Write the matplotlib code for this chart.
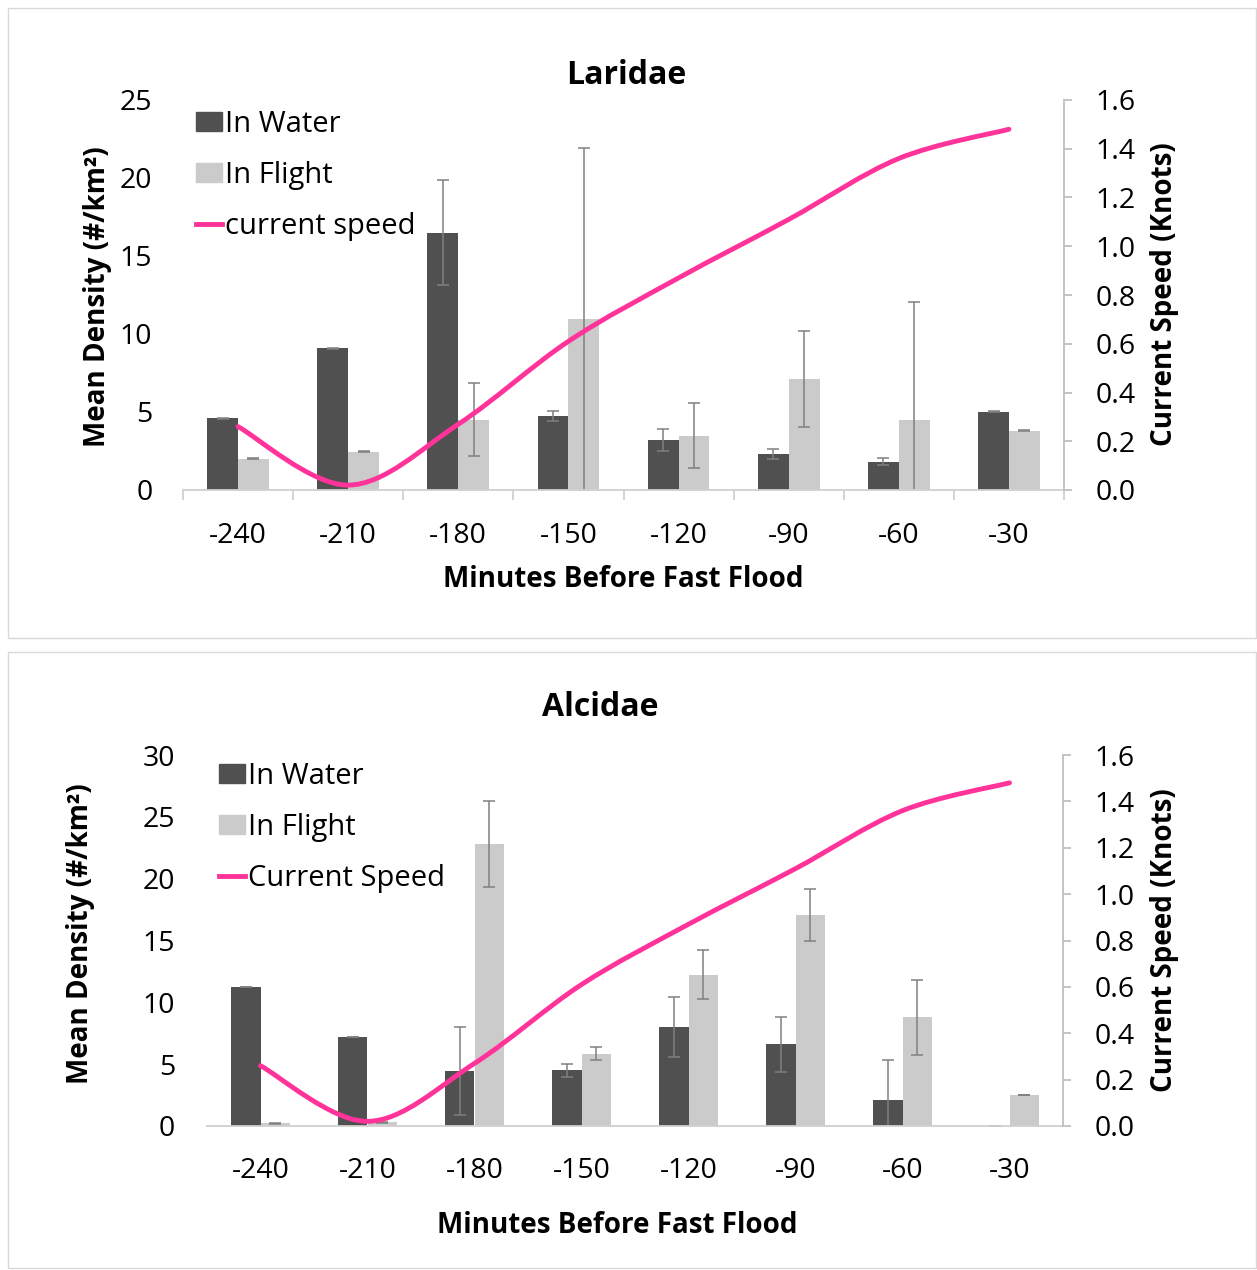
import numpy as np
import matplotlib
matplotlib.use("Agg")
import matplotlib.pyplot as plt
from matplotlib.path import Path
from matplotlib.patches import PathPatch, Rectangle, Patch
from matplotlib.lines import Line2D
from matplotlib.ticker import FixedLocator, FormatStrFormatter

plt.rcParams['font.family'] = ['Open Sans', 'DejaVu Sans']

# ---------------- data ----------------
categories = ["-240", "-210", "-180", "-150", "-120", "-90", "-60", "-30"]

laridae_water = [4.6, 9.1, 16.5, 4.75, 3.2, 2.32, 1.8, 5.03]
laridae_water_err = [0.03, 0.03, 3.35, 0.33, 0.7, 0.32, 0.22, 0.03]
laridae_flight = [2.0, 2.45, 4.5, 10.95, 3.48, 7.1, 4.47, 3.8]
laridae_flight_err = [0.03, 0.03, 2.35, 11.0, 2.1, 3.07, 7.6, 0.03]

alcidae_water = [11.25, 7.2, 4.47, 4.5, 8.0, 6.6, 2.1, 0.0]
alcidae_water_err = [0.03, 0.03, 3.55, 0.5, 2.4, 2.2, 3.25, 0.0]
alcidae_flight = [0.22, 0.3, 22.8, 5.85, 12.25, 17.1, 8.8, 2.5]
alcidae_flight_err = [0.05, 0.03, 3.5, 0.5, 1.95, 2.1, 3.03, 0.03]

current_speed = [0.26, 0.02, 0.27, 0.61, 0.87, 1.11, 1.36, 1.48]

# ---------------- style ----------------
W_COL = '#505050'
F_COL = '#cbcbcb'
PINK = '#ff3399'
AX_COL = '#d0d0d0'
ERR_COL = '#808080'
DPI = 100
FW, FH = 1257, 1270
TICK_FS = 20.5
LAB_FS = 20
LEG_FS = 21
TITLE_FS = 23


def smooth_path(xs, ys):
    xs = np.asarray(xs, float)
    ys = np.asarray(ys, float)
    n = len(xs)
    verts = [(xs[0], ys[0])]
    codes = [Path.MOVETO]
    for i in range(n - 1):
        p0 = np.array([xs[max(i - 1, 0)], ys[max(i - 1, 0)]])
        p1 = np.array([xs[i], ys[i]])
        p2 = np.array([xs[i + 1], ys[i + 1]])
        p3 = np.array([xs[min(i + 2, n - 1)], ys[min(i + 2, n - 1)]])
        c1 = p1 + (p2 - p0) / 6.0
        c2 = p2 - (p3 - p1) / 6.0
        verts += [tuple(c1), tuple(c2), tuple(p2)]
        codes += [Path.CURVE4] * 3
    return Path(verts, codes)


def panel(fig, rect_px, title, water, water_err, flight, flight_err,
          ymax, ystep, line_label, bottom_ticks, geo):
    l, t, r, b = rect_px
    ax = fig.add_axes([l / FW, 1 - b / FH, (r - l) / FW, (b - t) / FH])
    x = np.arange(len(categories))
    w = 0.28
    ekw = dict(ecolor=ERR_COL, elinewidth=1.1, capsize=4, capthick=1.1)
    ax.bar(x - w / 2, water, w, color=W_COL, yerr=water_err, error_kw=ekw,
           label='In Water', zorder=2)
    ax.bar(x + w / 2, flight, w, color=F_COL, yerr=flight_err, error_kw=ekw,
           label='In Flight', zorder=2)
    ax.set_xlim(-0.5, len(categories) - 0.5)
    ax.set_ylim(0, ymax)
    ax.set_yticks(np.arange(0, ymax + 0.001, ystep))
    for s in ['left', 'top', 'right']:
        ax.spines[s].set_visible(False)
    ax.spines['bottom'].set_color(AX_COL)
    ax.spines['bottom'].set_linewidth(1.3)
    ax.tick_params(axis='y', length=0, pad=geo['ypad'], labelsize=TICK_FS)
    # category boundary ticks (major) and labels (minor)
    ax.xaxis.set_major_locator(FixedLocator(np.arange(-0.5, len(categories), 1.0)))
    ax.xaxis.set_major_formatter(plt.NullFormatter())
    ax.xaxis.set_minor_locator(FixedLocator(x))
    ax.set_xticklabels(categories, minor=True)
    ax.tick_params(axis='x', which='major', length=(7 if bottom_ticks else 0),
                   color=AX_COL, width=1.3, direction='out')
    ax.tick_params(axis='x', which='minor', length=0, pad=geo['xpad'], labelsize=TICK_FS)

    ax2 = ax.twinx()
    ax2.set_ylim(0, 1.6)
    ax2.set_yticks(np.arange(0, 1.61, 0.2))
    ax2.yaxis.set_major_formatter(FormatStrFormatter('%.1f'))
    for s in ['left', 'top', 'bottom']:
        ax2.spines[s].set_visible(False)
    ax2.spines['right'].set_color('#bfbfbf')
    ax2.spines['right'].set_linewidth(1.3)
    ax2.tick_params(axis='y', length=6, width=1.3, color='#bfbfbf', pad=geo['rpad'],
                    labelsize=TICK_FS)
    path = smooth_path(x, current_speed)
    ax2.add_patch(PathPatch(path, facecolor='none', edgecolor=PINK, lw=3.5,
                            capstyle='round', zorder=3))

    ax.set_ylabel('Mean Density (#/km²)', fontsize=LAB_FS, fontweight='bold')
    ax.yaxis.set_label_coords(*geo['ylab'])
    ax2.set_ylabel('Current Speed (Knots)', fontsize=LAB_FS, fontweight='bold')
    ax2.yaxis.set_label_coords(*geo['rlab'])
    ax.set_xlabel('Minutes Before Fast Flood', fontsize=LAB_FS, fontweight='bold')
    ax.xaxis.set_label_coords(*geo['xlab'])
    ax.text(geo['title'][0], geo['title'][1], title, transform=ax.transAxes,
            ha='center', va='center', fontsize=TITLE_FS, fontweight='bold')

    handles = [Patch(color=W_COL), Patch(color=F_COL),
               Line2D([0], [0], color=PINK, lw=3.5)]
    labels = ['In Water', 'In Flight', line_label]
    lx, ly = geo['leg']
    ax2.legend(handles, labels, loc='upper left',
               bbox_to_anchor=(lx / FW, 1 - ly / FH), bbox_transform=fig.transFigure,
               frameon=False, fontsize=LEG_FS, handlelength=0.9, handleheight=0.6,
               handletextpad=0.1, labelspacing=0.75, borderpad=0, borderaxespad=0)
    return ax, ax2


fig = plt.figure(figsize=(FW / DPI, FH / DPI), dpi=DPI)
fig.patch.set_facecolor('white')

# panel frames
fig.patches.append(Rectangle((8 / FW, 1 - 638 / FH), 1248 / FW, 630 / FH,
                             transform=fig.transFigure, fill=False,
                             edgecolor='#d9d9d9', lw=1.0))
fig.patches.append(Rectangle((8 / FW, 1 - 1268 / FH), 1248 / FW, 616 / FH,
                             transform=fig.transFigure, fill=False,
                             edgecolor='#d9d9d9', lw=1.0))

panel(fig, (183, 100, 1064, 490), 'Laridae',
      laridae_water, laridae_water_err, laridae_flight, laridae_flight_err,
      25, 5, 'current speed', True,
      dict(ypad=22, xpad=23, rpad=17,
           ylab=(-0.081, 0.497), rlab=(1.0976, 0.503), xlab=(0.4994, -0.192),
           title=(0.503, 1.064), leg=(196, 110)))

panel(fig, (207, 755, 1063, 1126), 'Alcidae',
      alcidae_water, alcidae_water_err, alcidae_flight, alcidae_flight_err,
      30, 5, 'Current Speed', False,
      dict(ypad=23, xpad=22, rpad=17,
           ylab=(-0.131, 0.518), rlab=(1.1016, 0.50), xlab=(0.479, -0.229),
           title=(0.459, 1.127), leg=(219, 762)))

fig.savefig('out.png', dpi=DPI, facecolor='white')
